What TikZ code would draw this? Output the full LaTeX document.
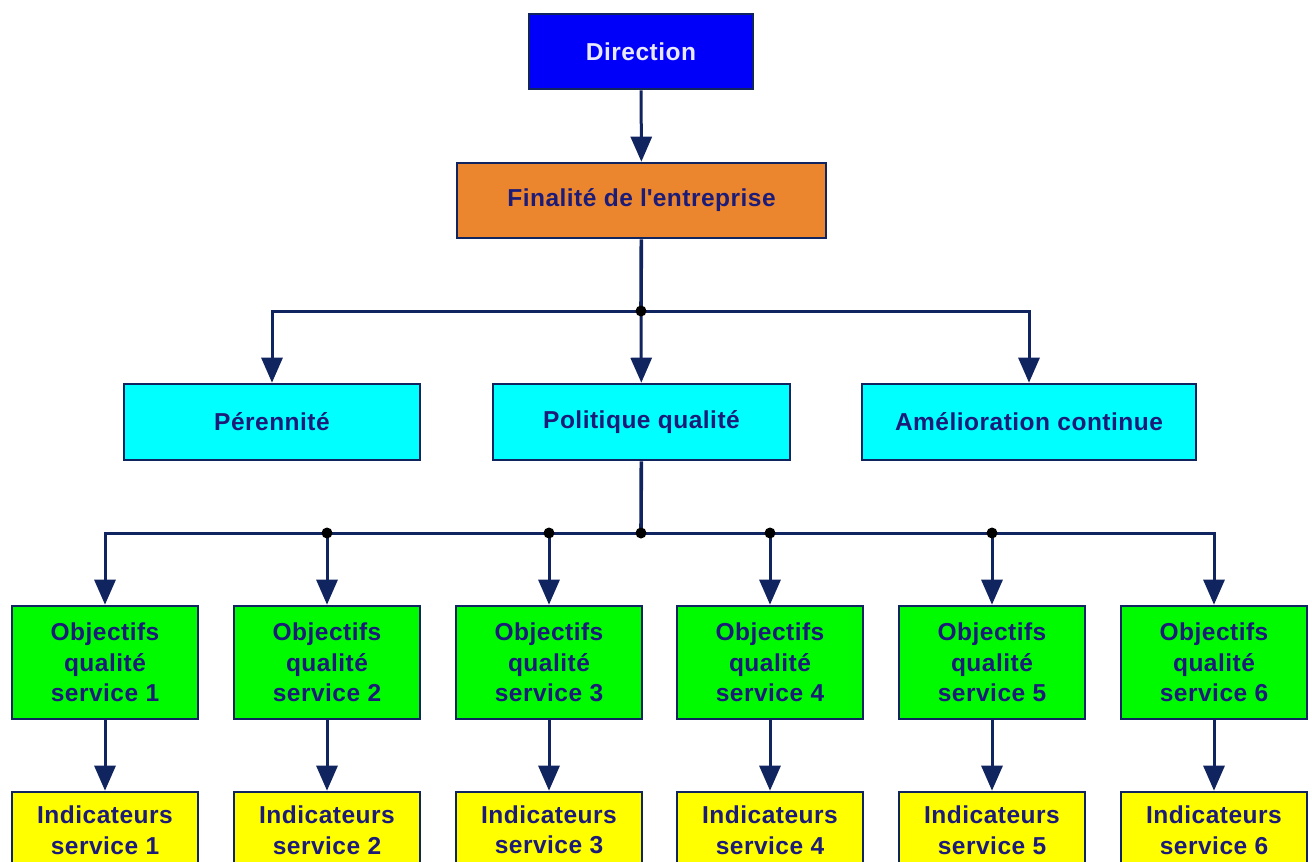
\documentclass[tikz,border=0pt]{standalone}
\usepackage{fontspec}
\setmainfont{Liberation Sans}[LetterSpace=2]
\usetikzlibrary{arrows.meta}
\definecolor{linknavy}{RGB}{16,36,96}
\definecolor{textnavy}{RGB}{28,28,120}
\definecolor{dirblue}{RGB}{0,0,250}
\definecolor{finorange}{RGB}{236,134,46}
\definecolor{axiscyan}{RGB}{0,255,255}
\definecolor{objgreen}{RGB}{0,250,0}
\definecolor{indyellow}{RGB}{255,255,0}

\tikzset{
  box/.style={draw=linknavy, line width=2.6pt, inner sep=0pt, align=center,
    text=textnavy, font=\fontsize{24.5}{30.5}\selectfont\bfseries},
  link/.style={draw=linknavy, line width=3pt, -{Triangle[length=25pt, width=21pt]}},
  trunk/.style={draw=linknavy, line width=3.6pt},
  junction/.style={circle, fill=black, inner sep=0pt, minimum size=11pt}
}

\begin{document}
\begin{tikzpicture}[x=1pt, y=-1pt]
    \useasboundingbox (0,0) rectangle (1312,862);
    \clip (0,0) rectangle (1312,862);

    % top levels
    \node[box, fill=dirblue, text={rgb,255:red,232;green,232;blue,255}, minimum width=224pt, minimum height=75pt] at (641,51.5) (dir) {Direction};
    \node[box, fill=finorange, minimum width=369pt, minimum height=75pt] at (641.5,200.5) (fin) {Finalit\'e de l\textquotesingle entreprise};

    % axes of the policy
    \node[box, fill=axiscyan, minimum width=296pt, minimum height=76pt] at (272,422) (per) {P\'erennit\'e};
    \node[box, fill=axiscyan, minimum width=297pt, minimum height=76pt] at (641.5,422) (pol) {Politique qualit\'e};
    \node[box, fill=axiscyan, minimum width=334pt, minimum height=76pt] at (1029,422) (ame) {Am\'elioration continue};

    % services
    \foreach \i/\x in {1/105,2/327,3/549,4/770,5/992,6/1214} {
        \node[box, fill=objgreen, minimum width=186pt, minimum height=113pt] at (\x,662.5) (obj\i) {Objectifs\\qualit\'e\\service \i};
        \node[box, fill=indyellow, minimum width=186pt, minimum height=76pt] at (\x,830) (ind\i) {Indicateurs\\service \i};
        \draw[link] (obj\i) -- (ind\i);
    }

    % connectors
    \coordinate (j1) at (641,311);
    \coordinate (j2) at (641,533);
    \draw[link] (dir) -- (fin);
    \draw[trunk] (fin) -- (j1);
    \draw[link] (j1) -| (per);
    \draw[link] (j1) -- (pol);
    \draw[link] (j1) -| (ame);
    \draw[trunk] (pol) -- (j2);
    \foreach \i in {1,...,6}
        \draw[link] (j2) -| (obj\i);

    % junction dots
    \node[junction] at (j1) (d0) {};
    \node[junction] at (j2) (d1) {};
    \foreach \x in {327,549,770,992}
        \node[junction] at (\x,533) {};
\end{tikzpicture}
\end{document}
